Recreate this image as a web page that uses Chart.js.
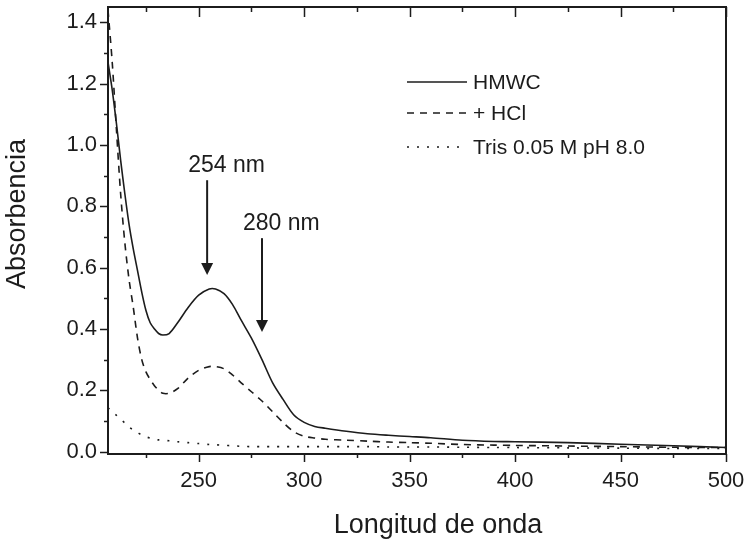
<!DOCTYPE html>
<html>
<head>
<meta charset="utf-8">
<script src="https://cdn.jsdelivr.net/npm/chart.js@4"></script>
<style>
  html, body { margin: 0; padding: 0; background: #fff; }
  #wrap { width: 749px; height: 546px; }
</style>
</head>
<body>
<div id="wrap"><canvas id="spectra"></canvas></div>
<script>
// wavelength (nm) and absorbance of each sample
var wavelength = [207, 209, 211, 213, 215, 217, 219, 221, 223, 225, 227, 229, 231, 233, 236, 240, 245, 250, 255, 258, 262, 266, 270, 275, 280, 285, 290, 295, 300, 305, 310, 320, 330, 340, 350, 360, 375, 390, 400, 425, 450, 475, 500];
var hmwc = [1.27, 1.18, 1.07, 0.95, 0.84, 0.74, 0.66, 0.59, 0.52, 0.46, 0.42, 0.40, 0.385, 0.38, 0.385, 0.42, 0.47, 0.51, 0.53, 0.53, 0.515, 0.48, 0.43, 0.37, 0.30, 0.225, 0.17, 0.12, 0.095, 0.082, 0.076, 0.066, 0.058, 0.053, 0.049, 0.045, 0.037, 0.033, 0.032, 0.029, 0.024, 0.019, 0.013];
var hcl = [1.44, 1.27, 1.05, 0.84, 0.68, 0.56, 0.47, 0.37, 0.30, 0.26, 0.235, 0.215, 0.20, 0.19, 0.19, 0.205, 0.24, 0.265, 0.277, 0.277, 0.27, 0.25, 0.225, 0.195, 0.165, 0.13, 0.095, 0.065, 0.05, 0.044, 0.04, 0.037, 0.034, 0.031, 0.029, 0.027, 0.023, 0.021, 0.02, 0.018, 0.016, 0.014, 0.013];
var tris = [0.143, 0.13, 0.118, 0.105, 0.093, 0.08, 0.07, 0.062, 0.054, 0.048, 0.044, 0.041, 0.038, 0.037, 0.035, 0.032, 0.029, 0.026, 0.023, 0.022, 0.02, 0.019, 0.017, 0.016, 0.016, 0.016, 0.016, 0.016, 0.016, 0.016, 0.016, 0.016, 0.016, 0.015, 0.015, 0.015, 0.014, 0.013, 0.013, 0.012, 0.011, 0.01, 0.01];
var seriesNames = ["HMWC", "+ HCl", "Tris 0.05 M pH 8.0"];
var peakNm = [254, 280];
var peakLabels = ["254 nm", "280 nm"];

var FONT = "'Liberation Sans', Arial, Helvetica, sans-serif";
var INK = "#1c1c1c";

function pts(ys) {
    return wavelength.map(function (w, i) { return { x: w, y: ys[i] }; });
}

// box, inner/outer tick marks, axis titles, legend and arrows
var decor = {
    id: 'decor',
    afterDraw: function (chart) {
        var ctx = chart.ctx;
        var a = chart.chartArea;
        var xs = chart.scales.x, ys = chart.scales.y;
        ctx.save();
        ctx.strokeStyle = INK;
        ctx.fillStyle = INK;
        ctx.lineWidth = 2;
        ctx.strokeRect(a.left, a.top, a.right - a.left, a.bottom - a.top);

        ctx.lineWidth = 1.5;
        ctx.beginPath();
        var xt = xs.ticks.map(function (t) { return t.value; });
        for (var v = 225; v <= 500; v += 25) {
            var px = Math.round(xs.getPixelForValue(v)) + 0.5;
            var major = xt.indexOf(v) >= 0;
            ctx.moveTo(px, a.bottom); ctx.lineTo(px, a.bottom + (major ? 8 : 4));
            ctx.moveTo(px, a.top); ctx.lineTo(px, a.top + (major ? 10 : 5));
        }
        for (var k = 0; k <= 14; k++) {
            var py = Math.round(ys.getPixelForValue(k / 10)) + 0.5;
            ctx.moveTo(a.left, py); ctx.lineTo(a.left - (k % 2 === 0 ? 8 : 4), py);
        }
        ctx.stroke();

        // axis titles
        ctx.font = "27px " + FONT;
        ctx.textAlign = 'center';
        ctx.textBaseline = 'middle';
        ctx.fillText("Longitud de onda", 438, 526);
        ctx.save();
        ctx.translate(18, 214);
        ctx.rotate(-Math.PI / 2);
        ctx.fillText("Absorbencia", 0, 0);
        ctx.restore();

        // legend
        ctx.font = "21px " + FONT;
        ctx.textAlign = 'left';
        var legendY = [82, 113, 147];
        chart.data.datasets.forEach(function (ds, i) {
            ctx.save();
            ctx.lineWidth = ds.borderWidth;
            ctx.setLineDash(ds.borderDash || []);
            ctx.beginPath();
            ctx.moveTo(407, legendY[i]);
            ctx.lineTo(467, legendY[i]);
            ctx.stroke();
            ctx.restore();
            ctx.fillText(ds.label, 473, legendY[i] + 1);
        });

        // peak arrows
        var arrowTop = [0.885, 0.696], arrowTip = [0.576, 0.39];
        ctx.font = "23px " + FONT;
        ctx.textBaseline = 'alphabetic';
        peakNm.forEach(function (nm, i) {
            var x = xs.getPixelForValue(nm);
            var y0 = ys.getPixelForValue(arrowTop[i]);
            var y1 = ys.getPixelForValue(arrowTip[i]);
            ctx.lineWidth = 2;
            ctx.beginPath();
            ctx.moveTo(x, y0); ctx.lineTo(x, y1 - 10);
            ctx.stroke();
            ctx.beginPath();
            ctx.moveTo(x - 6, y1 - 12); ctx.lineTo(x + 6, y1 - 12); ctx.lineTo(x, y1);
            ctx.closePath();
            ctx.fill();
            ctx.fillText(peakLabels[i], x - 19, y0 - 8);
        });
        ctx.restore();
    }
};

new Chart(document.getElementById('spectra'), {
    type: 'line',
    data: {
        datasets: [{
            label: seriesNames[0],
            data: pts(hmwc),
            borderColor: INK,
            borderWidth: 1.6
        }, {
            label: seriesNames[1],
            data: pts(hcl),
            borderColor: INK,
            borderWidth: 1.6,
            borderDash: [7, 6]
        }, {
            label: seriesNames[2],
            data: pts(tris),
            borderColor: INK,
            borderWidth: 1.6,
            borderDash: [2, 8]
        }]
    },
    options: {
        responsive: true,
        maintainAspectRatio: false,
        animation: false,
        elements: { point: { radius: 0 }, line: { tension: 0.3 } },
        layout: { padding: { left: 0, right: 23, top: 7, bottom: 0 } },
        plugins: { legend: { display: false }, tooltip: { enabled: false } },
        scales: {
            x: {
                type: 'linear',
                min: 207,
                max: 500,
                grid: { display: false, drawTicks: false },
                border: { display: false },
                ticks: {
                    stepSize: 50,
                    includeBounds: false,
                    padding: 14,
                    color: INK,
                    font: { family: FONT, size: 22 },
                    maxRotation: 0
                },
                afterFit: function (s) {
                    s.height = 92;
                    s.paddingLeft = 0;
                    s.paddingRight = 0;
                }
            },
            y: {
                min: -0.008,
                max: 1.45,
                grid: { display: false, drawTicks: false },
                border: { display: false },
                ticks: {
                    stepSize: 0.2,
                    includeBounds: false,
                    padding: 11,
                    color: INK,
                    font: { family: FONT, size: 22 },
                    callback: function (v) { return v.toFixed(1); }
                },
                afterFit: function (s) {
                    s.width = 108;
                    s.paddingTop = 0;
                    s.paddingBottom = 0;
                }
            }
        }
    },
    plugins: [decor]
});
</script>
</body>
</html>
